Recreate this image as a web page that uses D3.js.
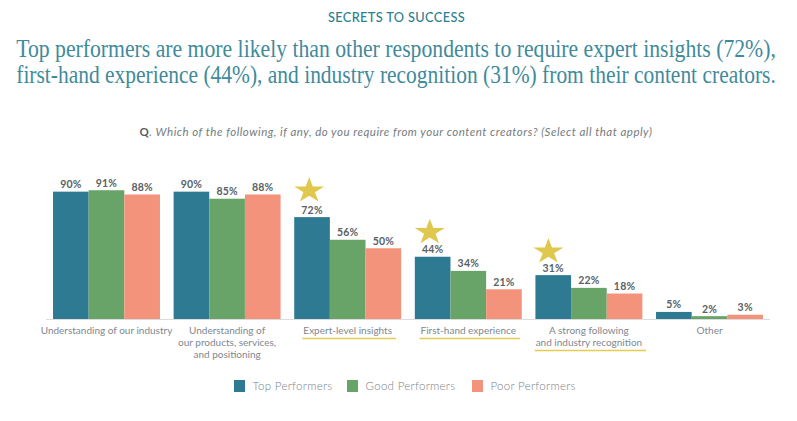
<!DOCTYPE html>
<html>
<head>
<meta charset="utf-8">
<script src="https://cdn.jsdelivr.net/npm/d3@7"></script>
<style>
	html, body { margin: 0; padding: 0; background: #fff; }
	svg { display: block; }
	text { font-family: Lato, "Open Sans", sans-serif; }
</style>
</head>
<body>
<svg id="chart" width="797" height="421"></svg>
<script>
const categories = [
	"Understanding of our industry",
	"Understanding of\nour products, services,\nand positioning",
	"Expert-level insights",
	"First-hand experience",
	"A strong following\nand industry recognition",
	"Other"
];
const seriesNames = ["Top Performers", "Good Performers", "Poor Performers"];
const topPerformers = [90, 90, 72, 44, 31, 5];
const goodPerformers = [91, 85, 56, 34, 22, 2];
const poorPerformers = [88, 88, 50, 21, 18, 3];
const highlighted = ["Expert-level insights", "First-hand experience", "A strong following\nand industry recognition"];
const colors = ["#2e7a93", "#68a468", "#f3937b"];

const titleLines = [
	"Top performers are more likely than other respondents to require expert insights (72%),",
	"first-hand experience (44%), and industry recognition (31%) from their content creators."
];

const svg = d3.select("#chart");
const allSeries = [topPerformers, goodPerformers, poorPerformers];

// Heading
svg.append("text")
	.attr("x", 396.5).attr("y", 22)
	.attr("text-anchor", "middle")
	.attr("font-size", 12.8)
	.attr("font-weight", 500)
	.attr("letter-spacing", 0.35)
	.attr("fill", "#2f7f8f")
	.text("SECRETS TO SUCCESS");

// title font is condensed in the original, so squeeze the serif to the same width
svg.selectAll("text.title")
	.data(titleLines)
	.join("text")
	.attr("class", "title")
	.attr("text-anchor", "middle")
	.style("font-family", "'Liberation Serif', serif")
	.attr("font-size", 25.5)
	.attr("fill", "#3f8a9b")
	.text(d => d)
	.attr("transform", function (d, i) {
		const sx = 760 / this.getComputedTextLength();
		return `translate(396,${56.5 + i * 26}) scale(${sx},1)`;
	});

const question = svg.append("text")
	.attr("x", 396).attr("y", 136)
	.attr("text-anchor", "middle")
	.attr("font-size", 11.5)
	.attr("font-style", "italic")
	.attr("letter-spacing", 0.5)
	.attr("fill", "#747c81");
question.append("tspan").attr("font-style", "normal").attr("font-weight", 700).attr("fill", "#555f66").text("Q");
question.append("tspan").text(". Which of the following, if any, do you require from your content creators? (Select all that apply)");

// Scales
const baseline = 319;
const x0 = d3.scaleBand().domain(categories).range([53, 763]).paddingInner(0.113);
const x1 = d3.scaleBand().domain(seriesNames).range([0, x0.bandwidth()]);
const y = d3.scaleLinear().domain([0, 100]).range([baseline, baseline - 141.5]);

// star placement above the highlighted bars
const starOffset = d3.scaleOrdinal().domain(highlighted).range([[15, 26.5], [15, 24.5], [13, 23.5]]);

// Bars
const groups = svg.selectAll("g.group")
	.data(categories)
	.join("g")
	.attr("class", "group")
	.attr("transform", d => `translate(${x0(d)},0)`);

groups.each(function (cat, ci) {
	const g = d3.select(this);
	const rows = seriesNames.map((s, si) => ({ s, si, v: allSeries[si][ci] }));
	g.selectAll("rect")
		.data(rows)
		.join("rect")
		.attr("x", d => x1(d.s))
		.attr("y", d => y(d.v))
		.attr("width", x1.bandwidth())
		.attr("height", d => baseline - y(d.v))
		.attr("fill", d => colors[d.si]);
	g.selectAll("text")
		.data(rows)
		.join("text")
		.attr("x", d => x1(d.s) + x1.bandwidth() / 2)
		.attr("y", d => y(d.v) - 3.5)
		.attr("text-anchor", "middle")
		.attr("font-size", 10.5)
		.attr("font-weight", 700)
		.attr("letter-spacing", 0.2)
		.attr("fill", "#586267")
		.text(d => d.v + "%");
	if (highlighted.includes(cat)) {
		const star = d3.symbol().type(d3.symbolStar).size(280);
		const off = starOffset(cat);
		g.append("path")
			.attr("d", star())
			.attr("transform", `translate(${off[0]},${y(topPerformers[ci]) - off[1]}) scale(1,0.86)`)
			.attr("fill", "#e0c84e");
	}
});

// Axis with multi-line labels
const xAxis = d3.axisBottom(x0).tickSize(0).tickPadding(0);
const axisG = svg.append("g")
	.attr("transform", `translate(0,${baseline + 0.5})`)
	.call(xAxis);
axisG.select(".domain").remove();
axisG.append("line")
	.attr("x1", 46).attr("x2", 770)
	.attr("stroke", "#dcdcdc").attr("stroke-width", 1.2);
axisG.selectAll(".tick text").each(function (d) {
	const t = d3.select(this).text(null)
		.attr("y", 0).attr("dy", null)
		.attr("fill", "#808890")
		.attr("font-size", 10)
		.style("font-family", "Lato, sans-serif");
	d.split("\n").forEach((line, i) => {
		t.append("tspan").attr("x", 0).attr("y", 14 + i * 12).text(line);
	});
	if (highlighted.includes(d)) {
		const box = this.getBBox();
		d3.select(this.parentNode).append("line")
			.attr("x1", box.x - 1).attr("x2", box.x + box.width + 4)
			.attr("y1", box.y + box.height + 3).attr("y2", box.y + box.height + 3)
			.attr("stroke", "#e5cb4f").attr("stroke-width", 1.5);
	}
});

// Legend
const legendX = d3.scaleOrdinal().domain(seriesNames).range([234, 347, 472]);
const legend = svg.selectAll("g.legend")
	.data(seriesNames)
	.join("g")
	.attr("class", "legend")
	.attr("transform", d => `translate(${legendX(d)},380)`);
legend.append("rect")
	.attr("width", 11).attr("height", 12)
	.attr("fill", (d, i) => colors[i]);
legend.append("text")
	.attr("x", 18.5).attr("y", 10)
	.attr("font-size", 11.5)
	.attr("font-weight", 300)
	.attr("letter-spacing", 0.3)
	.attr("fill", "#7b8388")
	.text(d => d);
</script>
</body>
</html>
